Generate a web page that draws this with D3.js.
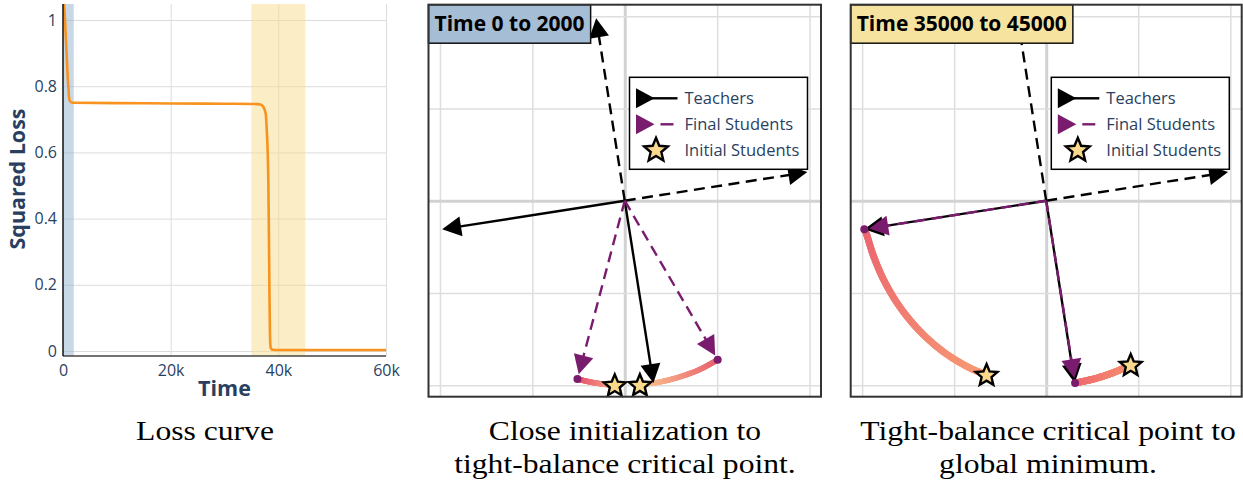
<!DOCTYPE html>
<html>
<head>
<meta charset="utf-8">
<script src="https://cdn.jsdelivr.net/npm/d3@7"></script>
<style>
  body { margin: 0; background: #fff; }
  svg { display: block; }
</style>
</head>
<body>
<svg id="fig" width="1243" height="483"></svg>
<script>
// ---------- loss curve ----------
const lossTime  = [0, 186, 370, 550, 750, 900, 985, 1100, 1300, 1600, 2000, 10000, 20000, 30000, 36000, 36700,
                   37200, 37650, 37850, 38030, 38140, 38250, 38350, 38450, 38550, 38700, 39000, 40000, 50000, 60000];
const lossValue = [1.10, 1.048, 1.0, 0.94, 0.87, 0.82, 0.80, 0.77, 0.755, 0.751, 0.750, 0.749, 0.748, 0.747, 0.746, 0.745,
                   0.738, 0.718, 0.668, 0.597, 0.517, 0.35, 0.18, 0.05, 0.012, 0.005, 0.004, 0.003, 0.003, 0.003];
const windowStart = [0, 35000];
const windowEnd   = [2000, 45000];
const timeTicks   = [0, 20000, 40000, 60000];
const timeLabels  = ["0", "20k", "40k", "60k"];
const lossTicks   = [0, 0.2, 0.4, 0.6, 0.8, 1];
const lossLabels  = ["0", "0.2", "0.4", "0.6", "0.8", "1"];

// ---------- weight-space snapshots ----------
const gridTicks = [-1, -0.5, 0, 0.5, 1];
const teacherVectors = [[0.988, 0.155], [-0.155, 0.988], [-0.988, -0.155], [0.155, -0.988]];
const teacherDashed  = [true, true, false, false];
// student trajectories, first point = initial student, last point = final student
const earlyStudentPaths = [
  [[-0.054, -0.998], [-0.105, -0.995], [-0.156, -0.988], [-0.208, -0.978], [-0.256, -0.966]],
  [[0.082, -0.997], [0.191, -0.982], [0.309, -0.951], [0.407, -0.914], [0.503, -0.862]]
];
const lateStudentPaths = [
  [[-0.324, -0.942], [-0.405, -0.911], [-0.550, -0.825], [-0.676, -0.717], [-0.784, -0.591],
   [-0.874, -0.446], [-0.937, -0.303], [-0.978, -0.176], [-0.988, -0.155]],
  [[0.459, -0.888], [0.391, -0.921], [0.309, -0.951], [0.233, -0.972], [0.157, -0.988]]
];
const legendLabels = ["Teachers", "Final Students", "Initial Students"];
const captions = [
  ["Loss curve"],
  ["Close initialization to", "tight-balance critical point."],
  ["Tight-balance critical point to", "global minimum."]
];

// ---------- styles ----------
const FONT = "'Open Sans', sans-serif";
const INK = "#2a3f5f";
const LOSS_COLOR = "#f7931e";
const WINDOW_FILL = ["#93b1cd", "#f7dd8d"];
const TITLE_FILL = ["#a6bdd6", "#f6e3a0"];
const PURPLE = "#7a1c6e";
const STAR_FILL = "#fbd98c";
const EARLY_COLORS = [["#f9b088", "#e6546e"], ["#fdc891", "#e8606e"]];
const LATE_COLORS  = [["#f79a74", "#eb6670"], ["#f69070", "#ee6c6d"]];

const svg = d3.select("#fig");

// =============== loss panel ===============
(function lossPanel() {
  const L = 63, R = 386, T = 4, B = 356;
  const x = d3.scaleLinear().domain([0, 60000]).range([L, R]);
  const y = d3.scaleLinear().domain([-0.0151, 1.0484]).range([B, T]);
  const g = svg.append("g");

  // grid
  g.append("g").attr("transform", `translate(0,${B})`)
    .call(d3.axisBottom(x).tickValues(timeTicks.slice(1)).tickSize(-(B - T)).tickFormat(""))
    .call(a => a.select(".domain").remove())
    .call(a => a.selectAll("line").attr("stroke", "#dcdcdc").attr("stroke-width", 1));
  g.append("g").attr("transform", `translate(${L},0)`)
    .call(d3.axisLeft(y).tickValues(lossTicks).tickSize(-(R - L)).tickFormat(""))
    .call(a => a.select(".domain").remove())
    .call(a => a.selectAll("line").attr("stroke", "#dcdcdc").attr("stroke-width", 1));

  // highlighted time windows
  g.selectAll("rect.win").data(windowStart).join("rect")
    .attr("x", (d) => x(d))
    .attr("width", (d, i) => x(windowEnd[i]) - x(d))
    .attr("y", T).attr("height", B - T)
    .attr("fill", (d, i) => WINDOW_FILL[i]).attr("opacity", 0.5);

  // curve
  g.append("clipPath").attr("id", "lossClip").append("rect")
    .attr("x", L).attr("y", T).attr("width", R - L).attr("height", B - T);
  g.append("path")
    .datum(lossTime.map((t, i) => [t, lossValue[i]]))
    .attr("clip-path", "url(#lossClip)")
    .attr("fill", "none").attr("stroke", LOSS_COLOR).attr("stroke-width", 2.6)
    .attr("d", d3.line().x(d => x(d[0])).y(d => y(d[1])).curve(d3.curveMonotoneX));

  // axis lines
  g.append("line").attr("x1", L).attr("x2", R).attr("y1", B).attr("y2", B)
    .attr("stroke", "#444").attr("stroke-width", 1.5);
  g.append("line").attr("x1", L).attr("x2", L).attr("y1", T).attr("y2", B)
    .attr("stroke", "#111").attr("stroke-width", 1.5);

  // tick labels
  const xa = g.append("g").attr("transform", `translate(0,${B})`)
    .call(d3.axisBottom(x).tickValues(timeTicks).tickSize(0).tickPadding(9)
      .tickFormat((d, i) => timeLabels[i]));
  xa.select(".domain").remove();
  xa.selectAll("text").attr("font-family", FONT).attr("font-size", 16).attr("fill", INK);
  const ya = g.append("g").attr("transform", `translate(${L},0)`)
    .call(d3.axisLeft(y).tickValues(lossTicks).tickSize(0).tickPadding(6)
      .tickFormat((d, i) => lossLabels[i]));
  ya.select(".domain").remove();
  ya.selectAll("text").attr("font-family", FONT).attr("font-size", 16).attr("fill", INK);

  // axis titles
  g.append("text").attr("x", (L + R) / 2).attr("y", 396).attr("text-anchor", "middle")
    .attr("font-family", FONT).attr("font-weight", 700).attr("font-size", 21.5).attr("fill", INK)
    .text("Time");
  g.append("text").attr("transform", `translate(25,${(T + B) / 2 - 1}) rotate(-90)`)
    .attr("text-anchor", "middle")
    .attr("font-family", FONT).attr("font-weight", 700).attr("font-size", 21.5).attr("fill", INK)
    .text("Squared Loss");
})();

// =============== weight-space panels ===============
function starPath(cx, cy, ro, ri) {
  const pts = [];
  for (let k = 0; k < 10; k++) {
    const r = k % 2 === 0 ? ro : ri;
    const a = -Math.PI / 2 + k * Math.PI / 5;
    pts.push([cx + r * Math.cos(a), cy + r * Math.sin(a)]);
  }
  return "M" + pts.map(p => p.join(",")).join("L") + "Z";
}

function arrowHead(g, x0, y0, x1, y1, color) {
  const len = 19, hw = 10;
  const dx = x1 - x0, dy = y1 - y0, n = Math.hypot(dx, dy);
  const ux = dx / n, uy = dy / n;
  const bx = x1 - ux * len, by = y1 - uy * len;
  g.append("path")
    .attr("d", `M${x1},${y1}L${bx - uy * hw},${by + ux * hw}L${bx + uy * hw},${by - ux * hw}Z`)
    .attr("fill", color);
  return [bx + ux * 2, by + uy * 2];
}

function arrow(g, x0, y0, x1, y1, color, dashed, standoff) {
  const n = Math.hypot(x1 - x0, y1 - y0);
  const tx = x1 - (x1 - x0) / n * standoff, ty = y1 - (y1 - y0) / n * standoff;
  const g2 = g.append("g");
  const line = g2.append("line").attr("x1", x0).attr("y1", y0)
    .attr("stroke", color).attr("stroke-width", 2.4);
  if (dashed) line.attr("stroke-dasharray", "11,6.5");
  const base = arrowHead(g2, x0, y0, tx, ty, color);
  line.attr("x2", base[0]).attr("y2", base[1]);
}

function vectorPanel(opt) {
  const { L, T, W, H, paths, colors, idx, lineW } = opt;
  const x = d3.scaleLinear().domain([-1.062, 1.062]).range([L, L + W]);
  const y = d3.scaleLinear().domain([-1.062, 1.062]).range([T + H, T]);
  const g = svg.append("g");

  g.append("rect").attr("x", L).attr("y", T).attr("width", W).attr("height", H).attr("fill", "#fff");

  // grid
  g.append("g").attr("transform", `translate(0,${T + H})`)
    .call(d3.axisBottom(x).tickValues(gridTicks).tickSize(-H).tickFormat(""))
    .call(a => a.select(".domain").remove())
    .call(a => a.selectAll("line").attr("stroke", d => d === 0 ? "#d2d2d2" : "#dedede")
      .attr("stroke-width", d => d === 0 ? 3 : 1.5));
  g.append("g").attr("transform", `translate(${L},0)`)
    .call(d3.axisLeft(y).tickValues(gridTicks).tickSize(-W).tickFormat(""))
    .call(a => a.select(".domain").remove())
    .call(a => a.selectAll("line").attr("stroke", d => d === 0 ? "#d2d2d2" : "#dedede")
      .attr("stroke-width", d => d === 0 ? 3 : 1.5));

  // trajectories with a colour gradient along time
  const lineGen = d3.line().x(d => x(d[0])).y(d => y(d[1])).curve(d3.curveCatmullRom.alpha(0.5));
  paths.forEach((p, i) => {
    const tmp = g.append("path").attr("d", lineGen(p)).attr("fill", "none");
    const node = tmp.node(), total = node.getTotalLength();
    const N = 60;
    const cInt = d3.interpolateRgb(colors[i][0], colors[i][1]);
    const pts = d3.range(N + 1).map(k => node.getPointAtLength(total * k / N));
    const tg = g.append("g");
    for (let k = 0; k < N; k++) {
      tg.append("line")
        .attr("x1", pts[k].x).attr("y1", pts[k].y).attr("x2", pts[k + 1].x).attr("y2", pts[k + 1].y)
        .attr("stroke", cInt(k / N)).attr("stroke-width", lineW).attr("stroke-linecap", "round");
    }
    tmp.remove();
  });

  // teachers
  const ox = x(0), oy = y(0);
  teacherVectors.forEach((v, i) => arrow(g, ox, oy, x(v[0]), y(v[1]), "#000", teacherDashed[i], 0));

  // final students
  paths.forEach(p => {
    const e = p[p.length - 1];
    arrow(g, ox, oy, x(e[0]), y(e[1]), PURPLE, true, 5);
  });
  g.selectAll("circle.end").data(paths).join("circle")
    .attr("cx", p => x(p[p.length - 1][0])).attr("cy", p => y(p[p.length - 1][1]))
    .attr("r", 4).attr("fill", PURPLE);

  // initial students
  g.selectAll("path.star").data(paths).join("path")
    .attr("d", p => starPath(x(p[0][0]), y(p[0][1]) + 1, 11.5, 5.2))
    .attr("fill", STAR_FILL).attr("stroke", "#000").attr("stroke-width", 2.4).attr("stroke-linejoin", "miter");

  // legend
  const lx = opt.legendX, ly = 77.3;
  const lg = g.append("g");
  lg.append("rect").attr("x", lx).attr("y", ly).attr("width", 178).attr("height", 92)
    .attr("fill", "#fff").attr("stroke", "#000").attr("stroke-width", 1.5);
  // teachers entry
  lg.append("path").attr("d", `M${lx + 6.5},${ly + 11}L${lx + 25},${ly + 21}L${lx + 6.5},${ly + 31}Z`).attr("fill", "#000");
  lg.append("line").attr("x1", lx + 22).attr("x2", lx + 48).attr("y1", ly + 21).attr("y2", ly + 21)
    .attr("stroke", "#000").attr("stroke-width", 2.4);
  // final students entry
  lg.append("path").attr("d", `M${lx + 6.5},${ly + 37}L${lx + 25},${ly + 47}L${lx + 6.5},${ly + 57}Z`).attr("fill", PURPLE);
  lg.append("line").attr("x1", lx + 31).attr("x2", lx + 44).attr("y1", ly + 47).attr("y2", ly + 47)
    .attr("stroke", PURPLE).attr("stroke-width", 2.4);
  // initial students entry
  lg.append("path").attr("d", starPath(lx + 26.5, ly + 73, 12.5, 5.6))
    .attr("fill", STAR_FILL).attr("stroke", "#000").attr("stroke-width", 2.4);
  lg.selectAll("text").data(legendLabels).join("text")
    .attr("x", lx + 55).attr("y", (d, i) => ly + 21 + i * 26 + 6)
    .attr("font-family", FONT).attr("font-size", 16.5).attr("fill", INK)
    .text(d => d);

  // title box
  const title = `Time ${windowStart[idx]} to ${windowEnd[idx]}`;
  const tt = g.append("text").attr("x", L + 6).attr("y", T + 26.5)
    .attr("font-family", FONT).attr("font-weight", 700).attr("font-size", 21).attr("fill", "#000")
    .text(title);
  const tw = tt.node().getComputedTextLength();
  g.insert("rect", () => tt.node())
    .attr("x", L).attr("y", T).attr("width", tw + 12).attr("height", 38.5)
    .attr("fill", TITLE_FILL[idx]).attr("stroke", "#111").attr("stroke-width", 1.5);

  // frame
  g.append("rect").attr("x", L).attr("y", T).attr("width", W).attr("height", H)
    .attr("fill", "none").attr("stroke", "#333").attr("stroke-width", 2);
}

vectorPanel({ L: 428.5, T: 4.7, W: 392.5, H: 392, paths: earlyStudentPaths, colors: EARLY_COLORS,
  idx: 0, lineW: 5.5, legendX: 629.5 });
vectorPanel({ L: 850.7, T: 4.7, W: 391, H: 392, paths: lateStudentPaths, colors: LATE_COLORS,
  idx: 1, lineW: 7, legendX: 1051.3 });

// =============== captions ===============
const capX = [205, 625, 1048];
captions.forEach((lines, i) => {
  lines.forEach((s, j) => {
    svg.append("text")
      .attr("transform", `translate(${capX[i]},${440 + j * 33}) scale(1.13,1)`)
      .attr("text-anchor", "middle")
      .attr("font-family", "'Liberation Serif', 'DejaVu Serif', serif").attr("font-size", 28).attr("fill", "#000")
      .text(s);
  });
});
</script>
</body>
</html>
